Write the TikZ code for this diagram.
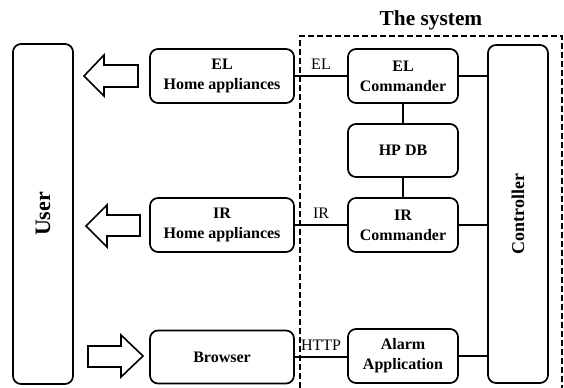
\documentclass[tikz,border=0pt]{standalone}
\usepackage{fontspec}
\setmainfont{Liberation Serif}
\tikzset{every picture/.style={line width=1.3pt}}
\tikzset{
  blockbox/.style={draw, rounded corners=6pt, align=center, inner sep=0.75pt,
    font=\fontsize{12}{15}\selectfont\bfseries},
  outbox/.style={blockbox, minimum width=108pt, minimum height=40.5pt},
  inbox/.style={blockbox, minimum width=82.5pt, minimum height=40.5pt},
  linklabel/.style={above=3.5pt, inner sep=0.75pt, font=\fontsize{12}{14}\selectfont},
  bigarrow/.style={draw, fill=white, line width=1.2pt}
}

\begin{document}
\begin{tikzpicture}[x=0.75pt,y=0.75pt,yscale=-1,xscale=1]
\useasboundingbox (0,0) rectangle (564,388);

%Dashed frame of the system
\draw [dash pattern=on 4.5pt off 2.25pt] (300,388) -- (300,36) -- (562,36) -- (562,388);
% Text Node
\draw (431,20) node [font=\fontsize{16}{18}\selectfont\bfseries] (systitle) {The system};

%Rounded Rect: user
\node [blockbox, minimum width=45pt, minimum height=255pt] (user) at (43,214) {};
\node [rotate=90, font=\fontsize{16.5}{18}\selectfont\bfseries] (usertxt) at (user.center) {User};
%Rounded Rect: controller
\node [blockbox, minimum width=45pt, minimum height=253.5pt] (ctrl) at (518,214) {};
\node [rotate=90, font=\fontsize{13.5}{15}\selectfont\bfseries] (ctrltxt) at (ctrl.center) {Controller};

%Rounded Rect: outside boxes
\node [outbox] (elha) at (222,76) {EL\\Home appliances};
\node [outbox] (irha) at (222,225) {IR\\Home appliances};
\node [outbox, minimum height=39.75pt] (browser) at (222,357) {Browser};

%Rounded Rect: inside boxes
\node [inbox] (elcmd) at (403,76) {EL\\Commander};
\node [inbox, minimum height=39.75pt] (hpdb) at (403,150.5) {HP DB};
\node [inbox] (ircmd) at (403,225) {IR\\Commander};
\node [inbox] (alarm) at (403,356) {Alarm\\Application};

%Connectors
\draw (elha.east) -- node [linklabel] {EL} (elcmd.west);
\draw (irha.east) -- node [linklabel] {IR} (ircmd.west);
\draw (browser.east) -- node [linklabel] {HTTP} (browser.east -| alarm.west);
\draw (elcmd.south) -- (hpdb.north);
\draw (hpdb.south) -- (ircmd.north);
\draw (elcmd.east) -- (elcmd.east -| ctrl.west);
\draw (ircmd.east) -- (ircmd.east -| ctrl.west);
\draw (alarm.east) -- (alarm.east -| ctrl.west);

%Block arrows
\draw [bigarrow] (84,76) -- (104,55) -- (104,65) -- (138,65) -- (138,87) -- (104,87) -- (104,96) -- cycle;
\draw [bigarrow] (86,226) -- (107,205) -- (107,215) -- (140,215) -- (140,236) -- (107,236) -- (107,247) -- cycle;
\draw [bigarrow] (143,356) -- (121,335) -- (121,346) -- (88,346) -- (88,367) -- (121,367) -- (121,377) -- cycle;
\end{tikzpicture}
\end{document}
